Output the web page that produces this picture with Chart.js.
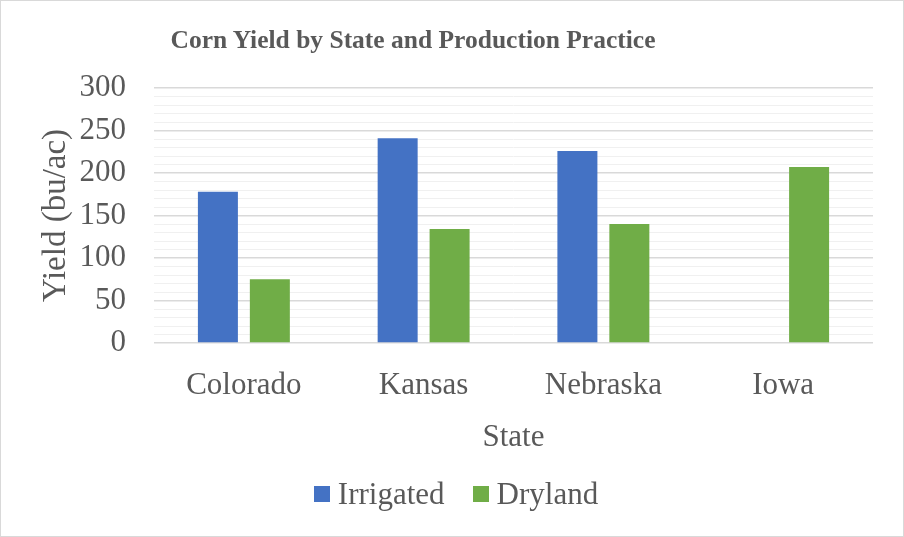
<!DOCTYPE html>
<html>
<head>
<meta charset="utf-8">
<title>Corn Yield by State and Production Practice</title>
<script src="https://cdn.jsdelivr.net/npm/chart.js@4"></script>
<style>
    html, body { margin: 0; padding: 0; background: #ffffff; }
    .chart-box {
        width: 904px;
        height: 537px;
        box-sizing: border-box;
        border: 1px solid #d9d9d9;
        position: relative;
        font-family: 'Liberation Serif', 'Times New Roman', serif;
        color: #595959;
    }
    .chart-title {
        position: absolute;
        left: 0;
        width: 824px;
        top: 24px;
        line-height: 30px;
        text-align: center;
        font-size: 25.5px;
        font-weight: bold;
    }
    .chart-legend {
        position: absolute;
        left: 0;
        width: 910px;
        top: 475px;
        line-height: 36px;
        display: flex;
        justify-content: center;
        gap: 28px;
        font-size: 31px;
    }
    .chart-legend span.item { display: flex; align-items: center; }
    .chart-legend span.swatch {
        display: inline-block;
        width: 16px;
        height: 16px;
        margin-right: 8px;
    }
</style>
</head>
<body>
<div class="chart-box">
    <div class="chart-title">Corn Yield by State and Production Practice</div>
    <canvas id="yieldChart"></canvas>
    <div class="chart-legend" id="legend"></div>
</div>
<script>
// Chart data
const states = ['Colorado', 'Kansas', 'Nebraska', 'Iowa'];
const irrigated = [178, 241, 226, null];
const dryland = [75, 134, 140, 207];
const yTicks = [0, 50, 100, 150, 200, 250, 300];

const textColor = '#595959';
const serif = "'Liberation Serif', 'Times New Roman', serif";

/**
 * Build the legend under the chart from the datasets.
 */
function buildLegend(chart) {
    const box = document.getElementById('legend');
    box.innerHTML = '';
    chart.data.datasets.forEach(ds => {
        const item = document.createElement('span');
        item.className = 'item';
        const swatch = document.createElement('span');
        swatch.className = 'swatch';
        swatch.style.background = ds.backgroundColor;
        item.appendChild(swatch);
        item.appendChild(document.createTextNode(ds.label));
        box.appendChild(item);
    });
}

document.addEventListener('DOMContentLoaded', function () {
    const canvas = document.getElementById('yieldChart');

    const chart = new Chart(canvas, {
        type: 'bar',
        data: {
            labels: states,
            datasets: [
                {
                    label: 'Irrigated',
                    data: irrigated,
                    backgroundColor: '#4472c4',
                    categoryPercentage: 0.578,
                    barPercentage: 0.77
                },
                {
                    label: 'Dryland',
                    data: dryland,
                    backgroundColor: '#70ad47',
                    categoryPercentage: 0.578,
                    barPercentage: 0.77
                }
            ]
        },
        options: {
            responsive: true,
            maintainAspectRatio: false,
            animation: false,
            layout: { padding: { left: 0, right: 30, top: 87, bottom: 80 } },
            plugins: {
                title: { display: false },
                legend: { display: false },
                tooltip: { enabled: false }
            },
            scales: {
                x: {
                    grid: { display: false },
                    border: { display: false },
                    afterFit: function (scale) { scale.height = 113; },
                    ticks: {
                        color: textColor,
                        font: { family: serif, size: 31 },
                        padding: 16
                    },
                    title: {
                        display: true,
                        text: 'State',
                        color: textColor,
                        font: { family: serif, size: 31 },
                        padding: { top: 0, bottom: 0 }
                    }
                },
                y: {
                    min: 0,
                    max: 300,
                    border: { display: false },
                    afterFit: function (scale) { scale.width = 153; },
                    afterBuildTicks: function (scale) {
                        // minor lines every 10, labels only on the major ticks
                        const list = [];
                        for (let v = 0; v <= 300; v += 10) list.push({ value: v });
                        scale.ticks = list;
                    },
                    grid: {
                        drawTicks: false,
                        color: function (ctx) {
                            return yTicks.includes(ctx.tick.value) ? '#d9d9d9' : '#f0f0f0';
                        },
                        lineWidth: function (ctx) {
                            return yTicks.includes(ctx.tick.value) ? 1.5 : 1;
                        }
                    },
                    ticks: {
                        autoSkip: false,
                        color: textColor,
                        font: { family: serif, size: 31 },
                        padding: 28,
                        callback: function (value) {
                            return yTicks.includes(value) ? value : '';
                        }
                    },
                    title: {
                        display: true,
                        text: 'Yield (bu/ac)',
                        color: textColor,
                        font: { family: serif, size: 33 },
                        padding: { top: 36, bottom: 0 }
                    }
                }
            }
        }
    });

    buildLegend(chart);
});
</script>
</body>
</html>
